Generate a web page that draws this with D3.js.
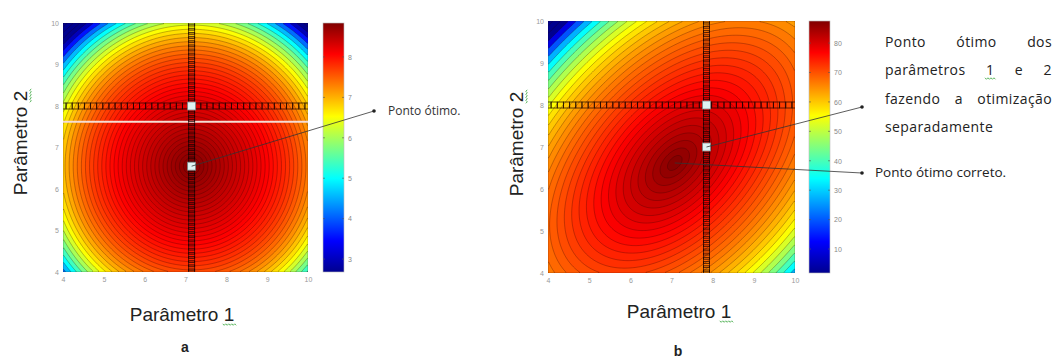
<!DOCTYPE html>
<html>
<head>
<meta charset="utf-8">
<script src="https://cdn.jsdelivr.net/npm/d3@7"></script>
<style>
  body { margin: 0; background: #fff; }
  svg { display: block; font-family: "Liberation Sans", Arial, sans-serif; }
</style>
</head>
<body>
<svg id="chart" width="1060" height="359"></svg>
<script>
// --- dados ---
const axisTicks = [4, 5, 6, 7, 8, 9, 10];
const cbTicksA = [3, 4, 5, 6, 7, 8];
const cbTicksB = [10, 20, 30, 40, 50, 60, 70, 80];
const cbRangeA = [2.68, 8.84];
const cbRangeB = [1.85, 87.5];

// superficie a (circular)
const optA = [7.15, 6.55];
const peakA = 8.84;
const edgeA = 2.68;              // valor minimo (canto superior esquerdo)
const shapeA = [0.3, 1.2, 6];    // parte linear, peso e expoente da queda
const ringA = 0.1;               // espacamento das curvas de nivel
// superficie b (elipse inclinada): a, b, termo cruzado
const optB = [7.08, 6.62];
const peakB = 87.5;
const edgeB = 1.85;
const curvB = [2.77, 2.77, 1.35];
const shapeB = [0.45, 0.95, 7];
const ringB = 0.26;

// busca separada (pontos em cruz)
const searchA = { col: 7.15, row: 8 };
const searchB = { col: 7.85, row: 8 };
const whiteA = [[7.15, 8], [7.15, 6.55]];
const whiteB = [[7.85, 8], [7.85, 7]];
const stripA = 7.62; // linha clara no painel a

const svg = d3.select("#chart");

// mapa de cores "jet"
const jet = d3.scaleLinear()
  .domain([0, 0.125, 0.375, 0.625, 0.875, 1])
  .range(["#00008f", "#0000ff", "#00ffff", "#ffff00", "#ff0000", "#800000"])
  .clamp(true);

const defs = svg.append("defs");

function squiggle(textSel, idx) {
  const e = textSel.node().getExtentOfChar(idx);
  const y0 = e.y + e.height - 1;
  const pts = [];
  for (let xx = e.x - 1, k = 0; xx <= e.x + e.width + 2; xx += 1.5, k++) {
    pts.push([xx, y0 + (k % 2 ? 1.3 : -0.2)]);
  }
  d3.select(textSel.node().parentNode).append("path")
    .attr("d", d3.line()(pts))
    .attr("fill", "none")
    .attr("stroke", "#4caf50")
    .attr("stroke-width", 0.9);
}

function drawPanel(cfg) {
  const g = svg.append("g");
  const x = d3.scaleLinear([4, 10], [cfg.x0, cfg.x1]);
  const y = d3.scaleLinear([4, 10], [cfg.y1, cfg.y0]);
  const norm = d3.scaleLinear(cfg.range, [0, 1]);

  // grade do "raio" (distancia ao otimo)
  const n = 180;
  const values = new Array(n * n);
  for (let j = 0; j < n; j++) {
    for (let i = 0; i < n; i++) {
      values[i + j * n] = cfg.rho(4 + (i + 0.5) / n * 6, 4 + (j + 0.5) / n * 6);
    }
  }
  const rMax = cfg.rho(4, 10);
  const [c1, c2, p] = cfg.shape;
  const val = r => {
    const u = r / rMax;
    return cfg.peak - (cfg.peak - cfg.edge) * Math.min(1, c1 * u + c2 * Math.pow(u, p));
  };
  const thresholds = d3.range(0, d3.max(values) + cfg.ring, cfg.ring);
  const contours = d3.contours().size([n, n]).thresholds(thresholds)(values);
  const tr = d3.geoTransform({
    point(px, py) { this.stream.point(x(4 + px / n * 6), y(4 + py / n * 6)); }
  });
  const path = d3.geoPath(tr);

  defs.append("clipPath").attr("id", cfg.id + "-clip")
    .append("rect")
    .attr("x", cfg.x0).attr("y", cfg.y0)
    .attr("width", cfg.x1 - cfg.x0).attr("height", cfg.y1 - cfg.y0);

  const plot = g.append("g").attr("clip-path", `url(#${cfg.id}-clip)`);
  plot.selectAll("path.band")
    .data(contours)
    .join("path")
    .attr("class", "band")
    .attr("d", path)
    .attr("fill", d => jet(norm(val(d.value + cfg.ring / 2))))
    .attr("stroke", "rgba(40,0,0,0.4)")
    .attr("stroke-width", 0.7);

  if (cfg.strip != null) {
    plot.append("line")
      .attr("x1", cfg.x0).attr("x2", cfg.x1)
      .attr("y1", y(cfg.strip)).attr("y2", y(cfg.strip))
      .attr("stroke", "#f6ddd4").attr("stroke-width", 2);
  }

  // pontos da busca: coluna e linha de quadrados vazados
  const colPts = d3.range(4, 10.001, 0.1).map(v => [cfg.search.col, v]);
  const rowPts = d3.range(4, 10.001, 0.15).map(v => [v, cfg.search.row]);
  const sq = 6;
  plot.selectAll("rect.mk")
    .data(colPts.concat(rowPts))
    .join("rect")
    .attr("class", "mk")
    .attr("x", d => x(d[0]) - sq / 2)
    .attr("y", d => y(d[1]) - sq / 2)
    .attr("width", sq).attr("height", sq)
    .attr("fill", "none")
    .attr("stroke", "rgba(20,0,0,0.75)")
    .attr("stroke-width", 0.9);

  plot.selectAll("rect.wh")
    .data(cfg.white)
    .join("rect")
    .attr("class", "wh")
    .attr("x", d => x(d[0]) - 4)
    .attr("y", d => y(d[1]) - 4)
    .attr("width", 8).attr("height", 8)
    .attr("fill", "#dff3f3")
    .attr("stroke", "#7a8a8a")
    .attr("stroke-width", 0.8);

  // eixos
  const ax = g.append("g")
    .attr("transform", `translate(0,${cfg.y1})`)
    .call(d3.axisBottom(x).tickValues(axisTicks).tickFormat(d3.format("d")).tickSize(0).tickPadding(5));
  const ay = g.append("g")
    .attr("transform", `translate(${cfg.x0},0)`)
    .call(d3.axisLeft(y).tickValues(axisTicks).tickFormat(d3.format("d")).tickSize(0).tickPadding(4));
  [ax, ay].forEach(a => {
    a.select(".domain").remove();
    a.selectAll("text").attr("font-size", 7).attr("fill", "#999");
  });

  // barra de cores
  const gid = cfg.id + "-grad";
  const grad = defs.append("linearGradient").attr("id", gid)
    .attr("x1", 0).attr("y1", 1).attr("x2", 0).attr("y2", 0);
  jet.domain().forEach((t, k) => {
    grad.append("stop").attr("offset", t).attr("stop-color", jet.range()[k]);
  });
  const cy = d3.scaleLinear(cfg.range, [cfg.y1, cfg.y0]);
  g.append("rect")
    .attr("x", cfg.cbx).attr("y", cfg.y0)
    .attr("width", cfg.cbw).attr("height", cfg.y1 - cfg.y0)
    .attr("fill", `url(#${gid})`)
    .attr("stroke", "#bbb").attr("stroke-width", 0.6);
  const cb = g.append("g")
    .attr("transform", `translate(${cfg.cbx + cfg.cbw},0)`)
    .call(d3.axisRight(cy).tickValues(cfg.cbTicks).tickFormat(d3.format("d")).tickSize(0).tickPadding(4));
  cb.select(".domain").remove();
  cb.selectAll("text").attr("font-size", 7).attr("fill", "#888");
  g.selectAll("line.cbt")
    .data(cfg.cbTicks.flatMap(v => [[cfg.cbx, v, 2], [cfg.cbx + cfg.cbw, v, -2]]))
    .join("line")
    .attr("class", "cbt")
    .attr("x1", d => d[0]).attr("x2", d => d[0] + d[2])
    .attr("y1", d => cy(d[1])).attr("y2", d => cy(d[1]))
    .attr("stroke", "#555").attr("stroke-width", 0.6);

  // rotulos dos eixos
  const xl = g.append("text")
    .attr("x", cfg.xlab[0]).attr("y", cfg.xlab[1])
    .attr("text-anchor", "middle")
    .attr("font-size", 19).attr("fill", "#222")
    .text("Parâmetro 1");
  squiggle(xl, 10);
  const yg = g.append("g").attr("transform", `translate(${cfg.ylab[0]},${cfg.ylab[1]}) rotate(-90)`);
  const yl = yg.append("text")
    .attr("text-anchor", "middle")
    .attr("font-size", 19).attr("fill", "#222")
    .text("Parâmetro 2");
  squiggle(yl, 10);

  g.append("text")
    .attr("x", cfg.letter[0]).attr("y", cfg.letter[1])
    .attr("text-anchor", "middle")
    .attr("font-size", 14).attr("font-weight", "bold").attr("fill", "#222")
    .text(cfg.id);

  return { x, y };
}

const pa = drawPanel({
  id: "a", x0: 63, x1: 308, y0: 23, y1: 272,
  cbx: 323, cbw: 21, range: cbRangeA, cbTicks: cbTicksA, ring: ringA,
  rho: (px, py) => Math.hypot(px - optA[0], py - optA[1]),
  peak: peakA, edge: edgeA, shape: shapeA,
  search: searchA, white: whiteA, strip: stripA,
  xlab: [182, 321], ylab: [27, 143], letter: [185, 352]
});

// painel b: "raio" da forma quadratica inclinada
const pb = drawPanel({
  id: "b", x0: 548, x1: 795, y0: 21, y1: 273,
  cbx: 809, cbw: 21, range: cbRangeB, cbTicks: cbTicksB, ring: ringB,
  rho: (px, py) => {
    const dx = px - optB[0], dy = py - optB[1];
    return Math.sqrt(curvB[0] * dx * dx + curvB[1] * dy * dy - 2 * curvB[2] * dx * dy);
  },
  peak: peakB, edge: edgeB, shape: shapeB,
  search: searchB, white: whiteB, strip: null,
  xlab: [679, 318], ylab: [523, 144], letter: [678, 356]
});

// anotacoes
function pointer(from, to) {
  svg.append("line")
    .attr("x1", from[0]).attr("y1", from[1])
    .attr("x2", to[0]).attr("y2", to[1])
    .attr("stroke", "#333").attr("stroke-width", 0.8);
  svg.append("circle").attr("cx", to[0]).attr("cy", to[1]).attr("r", 1.8).attr("fill", "#222");
}

pointer([pa.x(whiteA[1][0]), pa.y(whiteA[1][1])], [374, 111]);
svg.append("text")
  .attr("x", 388).attr("y", 115)
  .attr("font-family", "'Open Sans', sans-serif")
  .attr("font-size", 12).attr("fill", "#333")
  .text("Ponto ótimo.");

pointer([pb.x(whiteB[1][0]), pb.y(whiteB[1][1])], [862, 107]);
pointer([pb.x(optB[0]), pb.y(optB[1])], [862, 173]);

// texto justificado (espacamento entre palavras)
const noteLines = ["Ponto ótimo dos", "parâmetros 1 e 2", "fazendo a otimização", "separadamente"];
const noteY = [47, 75, 104, 132];
const noteW = 167;
const note = svg.append("g")
  .attr("font-family", "'Open Sans', sans-serif")
  .attr("font-size", 14).attr("letter-spacing", 0.4).attr("fill", "#222");
noteLines.forEach((t, k) => {
  const tx = note.append("text")
    .attr("x", 885).attr("y", noteY[k])
    .text(t);
  if (k < 3) {
    const w = tx.node().getComputedTextLength();
    const gaps = t.split(" ").length - 1;
    tx.attr("word-spacing", Math.max(0, (noteW - w) / gaps));
  }
  if (k === 1) squiggle(tx, 11);
});

svg.append("text")
  .attr("x", 875).attr("y", 177)
  .attr("font-family", "'Open Sans', sans-serif")
  .attr("font-size", 13.5).attr("fill", "#222")
  .text("Ponto ótimo correto.");
</script>
</body>
</html>
